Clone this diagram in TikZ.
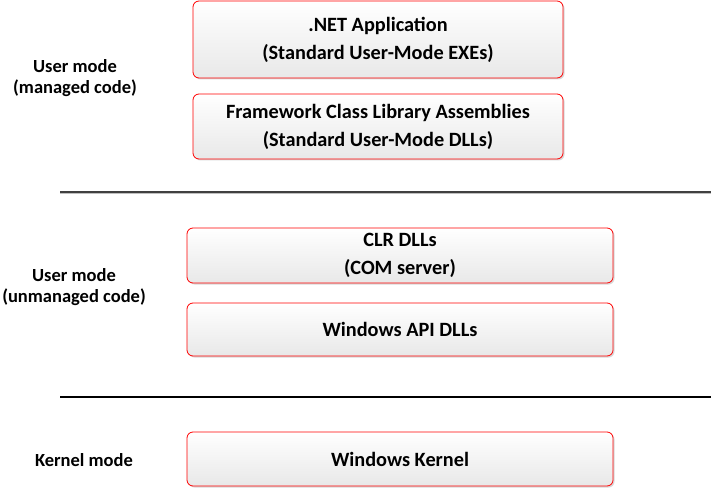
\documentclass[tikz,border=0pt]{standalone}
\usepackage{fontspec}
\setmainfont{Carlito}
\usepackage{tikz}
\usetikzlibrary{shadows, positioning}

\begin{document}
\begin{tikzpicture}[x=1pt, y=-1pt,
    layer/.style={draw=red, line width=0.8pt, rounded corners=6pt,
        top color=white, bottom color=gray!18,
        drop shadow={shadow xshift=1.5pt, shadow yshift=-1.5pt, fill=gray!60},
        font=\fontsize{20.3}{28}\selectfont\bfseries, align=center},
    modelabel/.style={font=\fontsize{18.5}{20.5}\selectfont\bfseries, align=center},
    sep/.style={line width=2.6pt}]
    \useasboundingbox (0,0) rectangle (711,489);
    % Managed code
    \node[layer, minimum width=370pt, minimum height=77pt] (app) at (378,39.5)
        {.NET Application\\(Standard User-Mode EXEs)};
    \node[layer, minimum width=370pt, minimum height=65pt] (fcl) at (378,126.5)
        {Framework Class Library Assemblies\\(Standard User-Mode DLLs)};
    % Unmanaged code
    \node[layer, minimum width=426pt, minimum height=55pt] (clr) at (400,255.5)
        {CLR DLLs\\(COM server)};
    \node[layer, minimum width=426pt, minimum height=53pt] (winapi) at (400,329.5)
        {Windows API DLLs};
    % Kernel
    \node[layer, minimum width=426pt, minimum height=54pt] (kernel) at (400,459)
        {Windows Kernel};
    % Mode labels
    \node[modelabel] (managed) at (75,78) {User mode\\(managed code)};
    \node[modelabel] (unmanaged) at (74,287) {User mode\\(unmanaged code)};
    \node[modelabel] (kmode) at (84,460) {Kernel mode};
    % Separators
    \coordinate (s1a) at (60,192);
    \coordinate (s1b) at (711,192);
    \coordinate (s2a) at (60,397);
    \coordinate (s2b) at (711,397);
    \draw[sep, gray!50] ([yshift=-1pt]s1a) -- ([yshift=-1pt]s1b);
    \draw[sep, black!75] (s1a) -- (s1b);
    \draw[sep, black] (s2a) -- (s2b);
\end{tikzpicture}
\end{document}
